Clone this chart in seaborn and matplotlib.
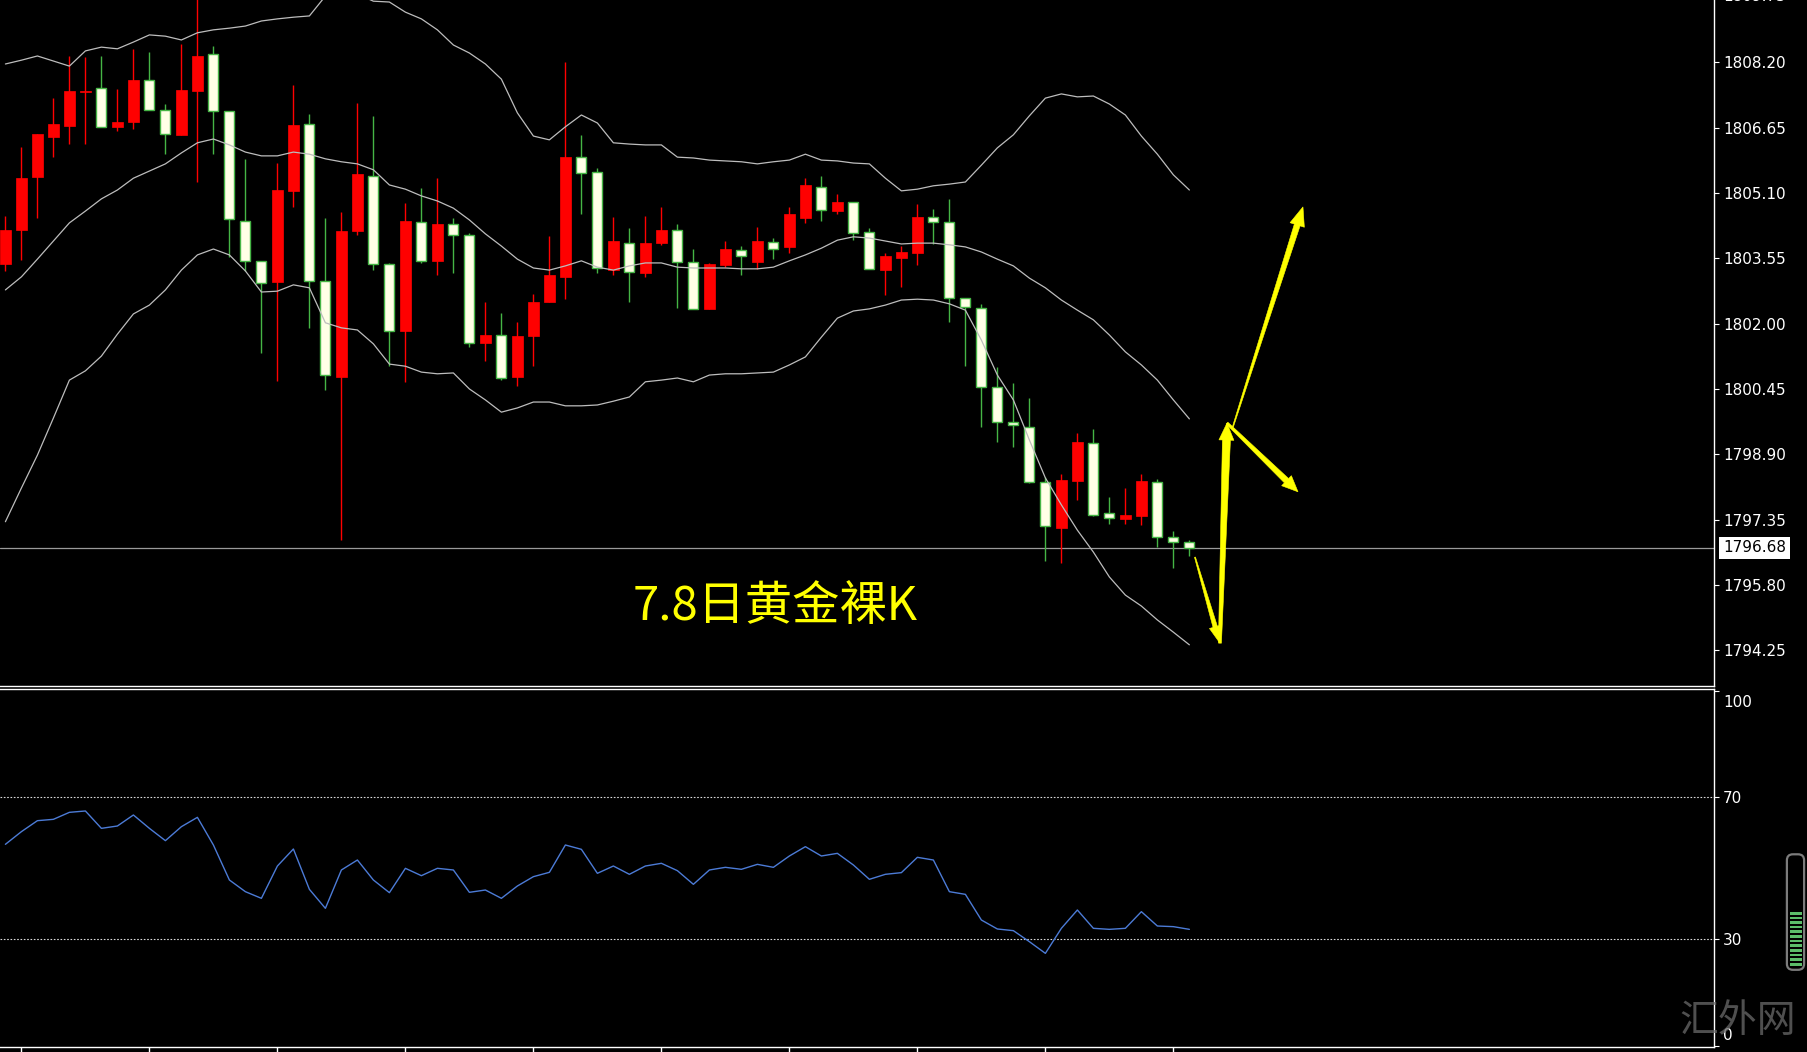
import numpy as np
import pandas as pd
import matplotlib
matplotlib.use("Agg")
import matplotlib.pyplot as plt
import seaborn as sns
from matplotlib.patches import Polygon, FancyBboxPatch, Rectangle
from matplotlib.transforms import IdentityTransform, blended_transform_factory

# ---------------- data ----------------
opens = [1803.42, 1804.23, 1805.47, 1806.43, 1806.70, 1807.49, 1807.59, 1806.67, 1806.79, 1807.77,
         1807.06, 1806.48, 1807.53, 1808.39, 1807.04, 1804.44, 1803.49, 1802.99, 1805.15, 1806.73,
         1803.02, 1800.74, 1804.19, 1805.50, 1803.41, 1801.82, 1804.40, 1803.49, 1804.36, 1804.11,
         1801.53, 1801.74, 1800.74, 1801.70, 1802.52, 1803.11, 1805.95, 1805.59, 1803.27, 1803.92,
         1803.21, 1803.91, 1804.21, 1803.46, 1802.35, 1803.39, 1803.75, 1803.46, 1803.94, 1803.81,
         1804.51, 1805.25, 1804.67, 1804.88, 1804.17, 1803.27, 1803.56, 1803.68, 1804.52, 1804.40,
         1802.60, 1802.36, 1800.49, 1799.66, 1799.55, 1798.24, 1797.16, 1798.27, 1799.16, 1797.50,
         1797.37, 1797.44, 1798.24, 1796.93, 1796.83]
highs = [1804.55, 1806.18, 1806.50, 1807.35, 1808.35, 1808.33, 1808.36, 1807.57, 1808.51, 1808.44,
         1807.22, 1808.64, 1809.90, 1808.58, 1807.04, 1805.91, 1803.49, 1805.82, 1807.65, 1806.98,
         1804.51, 1804.64, 1807.24, 1806.93, 1803.45, 1804.86, 1805.21, 1805.46, 1804.51, 1804.15,
         1802.52, 1802.26, 1802.05, 1802.71, 1804.09, 1808.20, 1806.48, 1805.69, 1804.54, 1804.26,
         1804.55, 1804.77, 1804.36, 1803.76, 1803.43, 1803.97, 1803.83, 1804.30, 1804.02, 1804.77,
         1805.46, 1805.50, 1805.07, 1804.88, 1804.26, 1803.67, 1803.85, 1804.85, 1804.72, 1804.96,
         1802.60, 1802.47, 1800.98, 1800.58, 1800.23, 1798.37, 1798.43, 1799.41, 1799.49, 1797.88,
         1798.09, 1798.43, 1798.31, 1797.08, 1796.87]
lows = [1803.24, 1803.51, 1804.51, 1805.95, 1806.25, 1806.27, 1806.66, 1806.57, 1806.61, 1807.06,
        1806.03, 1806.48, 1805.36, 1806.02, 1803.58, 1803.24, 1801.31, 1800.65, 1804.77, 1801.90,
        1800.42, 1796.86, 1804.10, 1803.28, 1800.99, 1800.61, 1803.45, 1803.15, 1803.21, 1801.44,
        1801.12, 1800.67, 1800.53, 1800.99, 1802.52, 1802.58, 1804.59, 1803.19, 1803.15, 1802.51,
        1803.11, 1803.87, 1802.38, 1802.34, 1802.35, 1803.35, 1803.15, 1803.29, 1803.53, 1803.67,
        1804.39, 1804.44, 1804.59, 1803.98, 1803.30, 1802.68, 1802.86, 1803.39, 1803.89, 1802.05,
        1800.99, 1799.55, 1799.18, 1799.08, 1798.21, 1796.36, 1796.33, 1797.82, 1797.44, 1797.25,
        1797.25, 1797.22, 1796.71, 1796.20, 1796.49]
closes = [1804.21, 1805.46, 1806.50, 1806.73, 1807.52, 1807.53, 1806.66, 1806.78, 1807.78, 1807.06,
          1806.49, 1807.54, 1808.35, 1807.04, 1804.49, 1803.48, 1802.96, 1805.16, 1806.71, 1803.00,
          1800.78, 1804.19, 1805.54, 1803.41, 1801.82, 1804.43, 1803.49, 1804.36, 1804.10, 1801.54,
          1801.74, 1800.71, 1801.70, 1802.52, 1803.15, 1805.95, 1805.57, 1803.32, 1803.96, 1803.22,
          1803.91, 1804.22, 1803.47, 1802.34, 1803.41, 1803.77, 1803.60, 1803.96, 1803.76, 1804.60,
          1805.29, 1804.70, 1804.89, 1804.14, 1803.30, 1803.61, 1803.70, 1804.54, 1804.40, 1802.60,
          1802.40, 1800.50, 1799.66, 1799.60, 1798.24, 1797.20, 1798.29, 1799.20, 1797.46, 1797.38,
          1797.46, 1798.27, 1796.93, 1796.83, 1796.68]

# Bollinger bands
bb_upper = [1808.16, 1808.25, 1808.35, 1808.23, 1808.11, 1808.47, 1808.56, 1808.52, 1808.68, 1808.85,
            1808.82, 1808.73, 1808.90, 1808.97, 1809.01, 1809.06, 1809.18, 1809.23, 1809.27, 1809.30,
            1809.77, 1809.92, 1809.82, 1809.65, 1809.63, 1809.39, 1809.23, 1808.97, 1808.61, 1808.42,
            1808.16, 1807.80, 1807.00, 1806.45, 1806.36, 1806.67, 1806.95, 1806.76, 1806.29, 1806.26,
            1806.24, 1806.24, 1805.95, 1805.93, 1805.88, 1805.86, 1805.84, 1805.79, 1805.84, 1805.88,
            1806.02, 1805.88, 1805.86, 1805.81, 1805.79, 1805.45, 1805.15, 1805.19, 1805.27, 1805.31,
            1805.36, 1805.76, 1806.17, 1806.48, 1806.93, 1807.35, 1807.45, 1807.38, 1807.40, 1807.21,
            1806.95, 1806.45, 1806.02, 1805.53, 1805.17]
bb_mid = [1802.80, 1803.11, 1803.53, 1803.96, 1804.39, 1804.67, 1804.96, 1805.17, 1805.45, 1805.62,
          1805.79, 1806.05, 1806.29, 1806.38, 1806.24, 1806.07, 1805.98, 1805.98, 1806.07, 1806.02,
          1805.91, 1805.84, 1805.79, 1805.65, 1805.29, 1805.19, 1805.03, 1804.91, 1804.74, 1804.46,
          1804.13, 1803.84, 1803.53, 1803.32, 1803.27, 1803.37, 1803.49, 1803.34, 1803.27, 1803.37,
          1803.44, 1803.44, 1803.34, 1803.32, 1803.32, 1803.32, 1803.30, 1803.30, 1803.34, 1803.49,
          1803.63, 1803.79, 1803.98, 1804.06, 1804.03, 1803.96, 1803.89, 1803.91, 1803.91, 1803.87,
          1803.82, 1803.70, 1803.53, 1803.37, 1803.08, 1802.85, 1802.56, 1802.32, 1802.09, 1801.73,
          1801.33, 1801.02, 1800.66, 1800.19, 1799.74]
bb_lower = [1797.30, 1798.10, 1798.88, 1799.76, 1800.66, 1800.88, 1801.23, 1801.75, 1802.23, 1802.44,
            1802.80, 1803.27, 1803.63, 1803.77, 1803.63, 1803.25, 1802.75, 1802.77, 1802.92, 1802.85,
            1802.02, 1801.90, 1801.85, 1801.52, 1801.04, 1800.99, 1800.85, 1800.81, 1800.83, 1800.45,
            1800.19, 1799.90, 1800.00, 1800.14, 1800.14, 1800.05, 1800.05, 1800.07, 1800.16, 1800.26,
            1800.62, 1800.66, 1800.71, 1800.62, 1800.78, 1800.81, 1800.81, 1800.83, 1800.85, 1801.02,
            1801.21, 1801.68, 1802.13, 1802.30, 1802.35, 1802.44, 1802.56, 1802.58, 1802.56, 1802.47,
            1802.32, 1801.61, 1800.78, 1800.19, 1799.24, 1798.34, 1797.70, 1797.10, 1796.58, 1795.99,
            1795.56, 1795.30, 1794.97, 1794.68, 1794.38]

# RSI
rsi = [56.75, 60.32, 63.41, 63.79, 65.76, 66.14, 61.25, 61.91, 65.01, 61.25,
       57.78, 61.72, 64.35, 56.56, 46.70, 43.41, 41.54, 50.64, 55.43, 44.07,
       38.72, 49.52, 52.33, 46.70, 43.13, 49.99, 47.92, 49.99, 49.52, 43.23,
       43.88, 41.54, 45.01, 47.64, 48.86, 56.56, 55.34, 48.58, 50.64, 48.30,
       50.64, 51.40, 49.33, 45.48, 49.52, 50.27, 49.71, 51.11, 50.27, 53.46,
       56.09, 53.46, 54.21, 50.93, 46.89, 48.30, 48.77, 53.09, 52.33, 43.41,
       42.66, 35.43, 32.90, 32.43, 29.33, 26.04, 33.09, 38.25, 33.09, 32.80,
       33.09, 37.78, 33.74, 33.56, 32.80]

price_ticks = [1794.25, 1795.80, 1797.35, 1798.90, 1800.45, 1802.00,
               1803.55, 1805.10, 1806.65, 1808.20]
price_tick_top = 1809.75
rsi_levels = [30, 70]
rsi_ticks = [0, 30, 70, 100]
time_ticks = [1, 9, 17, 25, 33, 41, 49, 57, 65, 73]
title = "7.8日黄金裸K"
watermark = "汇外网"

# projected path drawn after the last bar: (bar index, price) pairs
path_down = [(74.35, 1796.46), (75.91, 1794.42)]
path_up = [(75.91, 1794.42), (76.35, 1799.64)]
path_break = [(76.72, 1799.55), (81.10, 1804.77)]
path_pullback = [(76.35, 1799.64), (80.79, 1798.01)]

strength_segments = 12

# ---------------- style ----------------
sns.set_theme(style="dark", rc={"axes.facecolor": "black", "figure.facecolor": "black",
                                "savefig.facecolor": "black"})
plt.rcParams["font.family"] = ["DejaVu Sans"]
CJK = ["Noto Sans CJK SC", "DejaVu Sans"]

UP_COLOR = "#FF0000"
DOWN_FILL = "#FFFFE6"
DOWN_EDGE = "#45B545"
BAND_COLOR = "#BDBDBD"
RSI_COLOR = "#4C7BD6"
ARROW_COLOR = "#FFFF00"

W, H = 1808, 1052
fig = plt.figure(figsize=(W / 100, H / 100), dpi=100)
fig.patch.set_facecolor("black")

x_left, x_right = -0.3375, 106.79
ax1 = fig.add_axes([0, 1 - 686 / H, 1714 / W, 686 / H])
ax2 = fig.add_axes([0, 1 - 1047 / H, 1714 / W, (1047 - 689) / H])
for ax in (ax1, ax2):
    ax.set_facecolor("black")
    ax.set_xlim(x_left, x_right)
    ax.grid(False)
    ax.spines["left"].set_visible(False)
    for side in ("right", "bottom"):
        ax.spines[side].set_color("white")
        ax.spines[side].set_linewidth(1.0)
ax1.spines["top"].set_visible(False)
ax2.spines["top"].set_color("white")
ax2.spines["top"].set_linewidth(1.0)

ax1.set_ylim(1793.403, 1809.678)
ax2.set_ylim(-0.34, 100.5)

# ---------------- candles ----------------
df = pd.DataFrame({"open": opens, "high": highs, "low": lows, "close": closes})
df["idx"] = np.arange(len(df))
df["up"] = df["close"] >= df["open"]
df["body_lo"] = df[["open", "close"]].min(axis=1)
df["body_h"] = (df["close"] - df["open"]).abs().clip(lower=0.03)

up = df[df["up"]]
dn = df[~df["up"]]
ax1.vlines(up["idx"], up["low"], up["high"], color=UP_COLOR, lw=1.0, zorder=2)
ax1.vlines(dn["idx"], dn["low"], dn["high"], color=DOWN_EDGE, lw=1.0, zorder=2)
ax1.bar(up["idx"], up["body_h"], bottom=up["body_lo"], width=0.66,
        color=UP_COLOR, edgecolor=UP_COLOR, lw=0.5, zorder=3)
ax1.bar(dn["idx"], dn["body_h"], bottom=dn["body_lo"], width=0.62,
        color=DOWN_FILL, edgecolor=DOWN_EDGE, lw=1.0, zorder=3)

# ---------------- bollinger bands ----------------
bands = pd.DataFrame({"idx": df["idx"], "upper": bb_upper, "mid": bb_mid, "lower": bb_lower})
for col in ("upper", "mid", "lower"):
    sns.lineplot(data=bands, x="idx", y=col, ax=ax1, color=BAND_COLOR, lw=0.9, zorder=4)

# last price line and label
ax1.axhline(closes[-1], color="#9A9A9A", lw=0.9, zorder=1)
bt1 = blended_transform_factory(ax1.transAxes, ax1.transData)
ax1.text(1723 / 1714, closes[-1], f"{closes[-1]:.2f}", transform=bt1, ha="left", va="center",
         fontsize=11, color="black", clip_on=False, zorder=10,
         bbox=dict(boxstyle="square,pad=0.25", fc="white", ec="none"))

# price axis
ax1.yaxis.tick_right()
ax1.set_yticks(price_ticks)
ax1.set_yticklabels([f"{v:.2f}" for v in price_ticks])
ax1.tick_params(axis="y", which="both", direction="out", length=3.6, width=0.8,
                color="white", labelcolor="white", labelsize=11, pad=3,
                left=False, right=True, labelleft=False, labelright=True)
ax1.tick_params(axis="x", bottom=False, labelbottom=False)
ax1.text(1723 / 1714, price_tick_top, f"{price_tick_top:.2f}", transform=bt1,
         ha="left", va="center", fontsize=11, color="white", clip_on=False)
ax1.set_xlabel("")
ax1.set_ylabel("")

# title
fig.text(775 / W, 1 - 607 / H, title, color="#FFFF00", fontsize=34, family=CJK,
         ha="center", va="center")

# ---------------- projected path arrows ----------------
def tapered_arrow(ax, tail, tip, w_tail, w_body, w_head, l_head):
    p0 = ax.transData.transform(tail)
    p1 = ax.transData.transform(tip)
    d = p1 - p0
    u = d / np.hypot(*d)
    n = np.array([-u[1], u[0]])
    base = p1 - u * l_head
    pts = [p0 + n * w_tail / 2, base + n * w_body / 2, base + n * w_head / 2, p1,
           base - n * w_head / 2, base - n * w_body / 2, p0 - n * w_tail / 2]
    ax.add_patch(Polygon(pts, closed=True, transform=IdentityTransform(), fc=ARROW_COLOR,
                         ec=ARROW_COLOR, lw=0.4, zorder=8, clip_on=False))

tapered_arrow(ax1, path_down[0], path_down[1], 1.0, 4.5, 12, 17)
tapered_arrow(ax1, path_up[0], path_up[1], 3.0, 8.0, 15, 17)
tapered_arrow(ax1, path_break[0], path_break[1], 1.0, 6.0, 15, 19)
tapered_arrow(ax1, path_pullback[0], path_pullback[1], 2.5, 6.0, 14, 16)

# ---------------- RSI panel ----------------
rsi_df = pd.DataFrame({"idx": df["idx"], "rsi": rsi})
sns.lineplot(data=rsi_df, x="idx", y="rsi", ax=ax2, color=RSI_COLOR, lw=1.0, zorder=3)
for lvl in rsi_levels:
    ax2.axhline(lvl, color="#D8D8D8", lw=0.8, linestyle=(0, (1.5, 1.5)), zorder=2)
ax2.yaxis.tick_right()
ax2.set_yticks(rsi_ticks)
ax2.set_yticklabels(["" if v in (0, 100) else str(v) for v in rsi_ticks])
ax2.tick_params(axis="y", direction="out", length=3.6, width=0.8, color="white",
                labelcolor="white", labelsize=11, pad=3, left=False, right=True,
                labelleft=False, labelright=True)
bt2 = blended_transform_factory(ax2.transAxes, ax2.transData)
ax2.text(1723 / 1714, 96.8, "100", transform=bt2, ha="left", va="center",
         fontsize=11, color="white", clip_on=False)
ax2.text(1723 / 1714, 3.0, "0", transform=bt2, ha="left", va="center",
         fontsize=11, color="white", clip_on=False)
ax2.set_xticks(time_ticks)
ax2.tick_params(axis="x", direction="out", length=3.6, width=1.0, color="white",
                bottom=True, labelbottom=False)
ax2.set_xlabel("")
ax2.set_ylabel("")

# ---------------- strength gauge ----------------
gax = fig.add_axes([1785 / W, 1 - 972 / H, 22 / W, 120 / H])
gax.set_xlim(0, 22)
gax.set_ylim(0, 120)
gax.axis("off")
gax.add_patch(FancyBboxPatch((1.9, 2.2), 17.2, 115.5, boxstyle="round,pad=0,rounding_size=6",
                             fc="black", ec="#7C7C7C", lw=1.6))
seg_y = np.linspace(6.5, 57.5, strength_segments)
for yy in seg_y:
    gax.add_patch(Rectangle((5.2, yy), 11.6, 2.6, fc="#5CBD6A", ec="none"))

# watermark
fig.text(1738 / W, 1 - 1021 / H, watermark, color="#6A6A6A", alpha=0.75, fontsize=28,
         family=CJK, ha="center", va="center")

fig.savefig("out.png", dpi=100, facecolor="black")
